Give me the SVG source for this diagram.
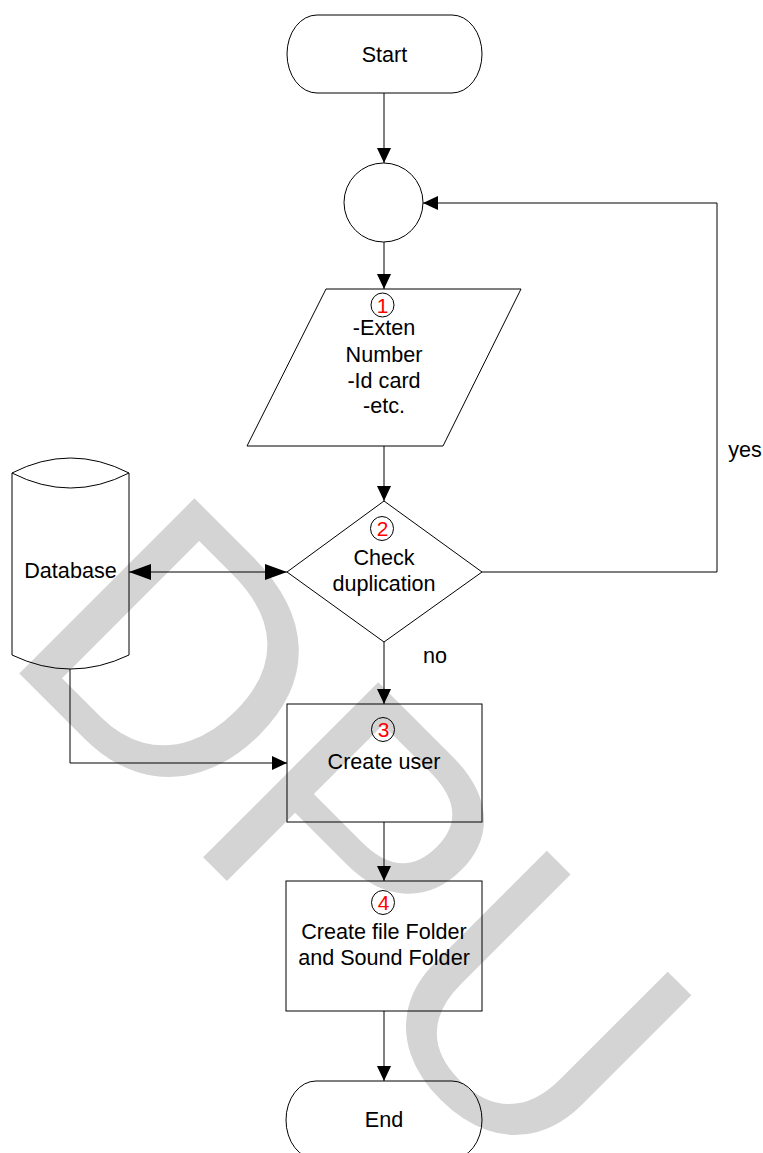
<svg xmlns="http://www.w3.org/2000/svg" width="763" height="1153" viewBox="0 0 763 1153">
<style>
  .shape { fill: none; stroke: #000; stroke-width: 1; }
  .conn { fill: none; stroke: #000; stroke-width: 1; }
  .lbl { font-family: "Liberation Sans", Arial, sans-serif; font-size: 21.6px; fill: #000; text-anchor: middle; }
  .num { font-family: "Liberation Sans", Arial, sans-serif; font-size: 21px; fill: #ff0000; text-anchor: middle; }
  .badge { fill: none; stroke: #000; stroke-width: 1; }
  .wm { font-family: "Liberation Sans", Arial, sans-serif; font-size: 360px; fill: #d4d4d4; }
</style>
<defs>
  <marker id="arr" markerUnits="userSpaceOnUse" markerWidth="16" markerHeight="14" refX="15" refY="7" orient="auto">
    <path d="M0,0 L15,7 L0,14 Z" fill="#000"/>
  </marker>
  <marker id="arrBig" markerUnits="userSpaceOnUse" markerWidth="23" markerHeight="16" refX="22" refY="8" orient="auto-start-reverse">
    <path d="M0,0 L22,8 L0,16 Z" fill="#000"/>
  </marker>
</defs>
<rect width="763" height="1153" fill="#fff"/>
<text class="wm" transform="translate(-1.6,652.6) rotate(45)">DPU</text>

<g id="connectors">
  <line class="conn" x1="384" y1="93" x2="384" y2="163" marker-end="url(#arr)"/>
  <line class="conn" x1="384" y1="242" x2="384" y2="289" marker-end="url(#arr)"/>
  <line class="conn" x1="384" y1="446" x2="384" y2="501" marker-end="url(#arr)"/>
  <line class="conn" x1="384" y1="642" x2="384" y2="704" marker-end="url(#arr)"/>
  <line class="conn" x1="384" y1="822" x2="384" y2="881" marker-end="url(#arr)"/>
  <line class="conn" x1="384" y1="1011" x2="384" y2="1081" marker-end="url(#arr)"/>
  <polyline class="conn" points="482,572 717,572 717,203 423,203" marker-end="url(#arr)"/>
  <line class="conn" x1="129" y1="572" x2="287" y2="572" marker-start="url(#arrBig)" marker-end="url(#arrBig)"/>
  <polyline class="conn" points="70,669 70,763 287,763" marker-end="url(#arr)"/>
  <text class="lbl" x="745" y="457">yes</text>
  <text class="lbl" x="435" y="663">no</text>
</g>

<g id="start">
  <rect class="shape" x="287" y="15" width="195" height="78" rx="30" ry="39"/>
  <text class="lbl" x="384.5" y="61.7">Start</text>
</g>

<g id="connector-circle">
  <circle class="shape" cx="383.5" cy="202.5" r="39.5"/>
</g>

<g id="input">
  <polygon class="shape" points="326,289 521,289 443,446 247,446"/>
  <ellipse class="badge" cx="382.5" cy="305" rx="11.5" ry="12"/>
  <text class="num" x="382.5" y="313">1</text>
  <text class="lbl" x="384" y="335">-Exten</text>
  <text class="lbl" x="384" y="361.5">Number</text>
  <text class="lbl" x="384" y="388">-Id card</text>
  <text class="lbl" x="384" y="413">-etc.</text>
</g>

<g id="check">
  <polygon class="shape" points="384,501 482,572 384,642 287,572"/>
  <ellipse class="badge" cx="382" cy="528.5" rx="11.5" ry="12"/>
  <text class="num" x="382.5" y="535.5">2</text>
  <text class="lbl" x="384" y="565">Check</text>
  <text class="lbl" x="384" y="591">duplication</text>
</g>

<g id="database">
  <path class="shape" d="M12,473 Q70.5,443 129,473 M12,473 Q70.5,503 129,473 M12,473 V655 Q70.5,683 129,655 V473"/>
  <text class="lbl" x="70.5" y="578">Database</text>
</g>

<g id="create-user">
  <rect class="shape" x="287" y="704" width="195" height="118"/>
  <ellipse class="badge" cx="383" cy="729.5" rx="11.5" ry="12"/>
  <text class="num" x="383.5" y="737">3</text>
  <text class="lbl" x="384" y="769">Create user</text>
</g>

<g id="create-folder">
  <rect class="shape" x="286" y="881" width="196" height="130"/>
  <ellipse class="badge" cx="383" cy="902.5" rx="11.5" ry="12"/>
  <text class="num" x="383.5" y="910">4</text>
  <text class="lbl" x="384" y="939">Create file Folder</text>
  <text class="lbl" x="384" y="965">and Sound Folder</text>
</g>

<g id="end">
  <rect class="shape" x="286" y="1081" width="196" height="78" rx="30" ry="39"/>
  <text class="lbl" x="384" y="1127">End</text>
</g>
</svg>
